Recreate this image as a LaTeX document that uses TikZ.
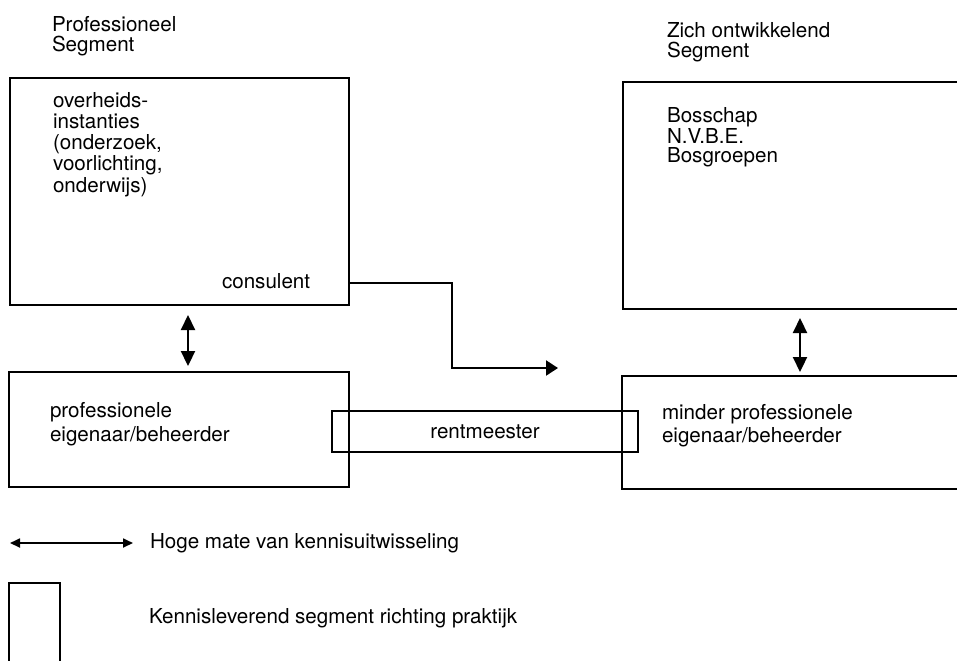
\documentclass[tikz,border=0pt]{standalone}
\usepackage{fontspec}
\setmainfont{TeX Gyre Heros}
\usetikzlibrary{arrows.meta}
\begin{document}
\begin{tikzpicture}[x=0.5pt,y=-0.5pt,
  box/.style={draw, line width=1.4pt, anchor=north west, inner sep=0pt, outer sep=0pt},
  txt/.style={anchor=base west, inner sep=0pt, outer sep=0pt, align=left, font=\fontsize{10.3}{10.6}\selectfont},
  bigtip/.tip={Triangle[length=7.5pt,width=7pt]},
  dbl/.style={line width=1.1pt, bigtip-bigtip},
  conn/.style={line width=1.1pt, -{Triangle[length=6pt,width=7.5pt]}},
  legarrow/.style={line width=0.9pt, {Triangle[length=5pt,width=4.5pt]}-{Triangle[length=5pt,width=4.5pt]}}]
\clip (0,0) rectangle (957,660);
% titles (anchor = baseline of the last line)
\node[txt, font=\fontsize{10.3}{9.6}\selectfont] (t1) at (52,51) {Professioneel\\Segment};
\node[txt, font=\fontsize{10.3}{10}\selectfont] (t2) at (667,57) {Zich ontwikkelend\\Segment};
% upper boxes
\node[box, minimum width=169.5pt, minimum height=113.5pt] (b1) at (10,78) {};
\node[txt] (b1t) at (53,192) {overheids-\\instanties\\(onderzoek,\\voorlichting,\\onderwijs)};
\node[txt] (cons) at (222,288) {consulent};
\node[box, minimum width=173.5pt, minimum height=113.5pt] (b2) at (623,82) {};
\node[txt, font=\fontsize{10.3}{9.25}\selectfont] (b2t) at (667,162) {Bosschap\\N.V.B.E.\\Bosgroepen};
% lower boxes
\node[box, minimum width=170pt, minimum height=57.5pt] (b3) at (9,372) {};
\node[txt, font=\fontsize{10.3}{12}\selectfont] (b3t) at (50,441) {professionele\\eigenaar/beheerder};
\node[box, minimum width=174pt, minimum height=56.5pt] (b4) at (622,376) {};
\node[txt, font=\fontsize{10.3}{11.5}\selectfont] (b4t) at (662,442) {minder professionele\\eigenaar/beheerder};
\node[draw, line width=1pt, inner sep=0pt, minimum width=153pt, minimum height=20.5pt,
      font=\fontsize{10.3}{10.6}\selectfont] (rm) at (485,431.5) {rentmeester};
% connectors
\coordinate (ax1) at (188,0);
\draw[dbl, shorten <=5pt, shorten >=3pt] (b1.south -| ax1) -- (b3.north -| ax1);
\coordinate (ax2) at (800,0);
\draw[dbl, shorten <=4.5pt, shorten >=2pt] (b2.south -| ax2) -- (b4.north -| ax2);
\coordinate (cb) at (452,283);
\coordinate (ce) at (558,368);
\draw[conn] (b1.east |- cb) -- (cb) |- (ce);
% legend
\coordinate (la1) at (10,543);
\coordinate (la2) at (133,543);
\draw[legarrow] (la1) -- (la2);
\node[txt] (lt1) at (150,548) {Hoge mate van kennisuitwisseling};
\node[draw, line width=0.9pt, anchor=north west, inner sep=0pt, minimum width=25.5pt, minimum height=49pt] (lbox) at (8,582) {};
\node[txt] (lt2) at (149,623) {Kennisleverend segment richting praktijk};
\end{tikzpicture}
\end{document}
